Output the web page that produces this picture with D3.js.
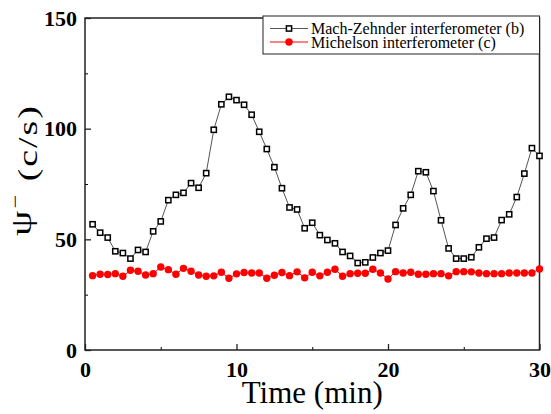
<!DOCTYPE html>
<html>
<head>
<meta charset="utf-8">
<script src="https://cdn.jsdelivr.net/npm/d3@7"></script>
<style>
  body { margin: 0; background: #fff; }
  svg { display: block; }
</style>
</head>
<body>
<div id="chart"></div>
<script>
// data
var timeMin = [0.5, 1, 1.5, 2, 2.5, 3, 3.5, 4, 4.5, 5, 5.5, 6, 6.5, 7, 7.5, 8, 8.5, 9, 9.5, 10,
  10.5, 11, 11.5, 12, 12.5, 13, 13.5, 14, 14.5, 15, 15.5, 16, 16.5, 17, 17.5, 18, 18.5, 19, 19.5, 20,
  20.5, 21, 21.5, 22, 22.5, 23, 23.5, 24, 24.5, 25, 25.5, 26, 26.5, 27, 27.5, 28, 28.5, 29, 29.5, 30];

var machZehnder = [56.8, 53.0, 50.8, 44.6, 43.8, 41.3, 45.2, 44.3, 53.6, 58.1,
  67.7, 70.1, 71.0, 75.4, 73.3, 79.9, 99.5, 111.0, 114.4, 112.9,
  110.8, 106.3, 98.6, 90.8, 82.6, 73.1, 64.4, 63.5, 55.0, 57.5,
  51.9, 49.7, 48.2, 44.3, 42.5, 39.3, 39.6, 41.8, 43.8, 44.9,
  56.5, 64.0, 70.1, 80.8, 80.3, 71.8, 58.6, 45.9, 41.3, 41.3,
  41.9, 46.4, 50.3, 50.8, 58.7, 61.3, 69.1, 79.7, 91.2, 87.7];

var michelson = [33.6, 34.2, 34.1, 34.5, 33.3, 36.0, 35.6, 33.9, 34.5, 37.5,
  36.3, 34.2, 36.9, 35.6, 33.9, 33.3, 33.5, 35.1, 32.4, 34.4,
  35.0, 34.8, 34.8, 32.4, 33.8, 35.0, 33.6, 35.3, 32.6, 35.1,
  33.5, 35.1, 36.5, 33.3, 34.5, 34.7, 34.7, 36.5, 34.8, 32.1,
  35.4, 34.8, 35.1, 34.2, 34.2, 34.5, 34.5, 33.5, 35.4, 35.4,
  35.3, 34.8, 34.5, 34.5, 34.5, 34.8, 34.8, 34.8, 34.8, 36.6];

var seriesNames = ["Mach-Zehnder interferometer (b)", "Michelson interferometer (c)"];
var xMajorTicks = [0, 10, 20, 30];
var xMinorTicks = [5, 15, 25];
var yMajorTicks = [0, 50, 100, 150];
var yMinorTicks = [25, 75, 125];

var W = 551, H = 414;
var margin = {top: 18, right: 11.5, bottom: 64, left: 85},
    width = W - margin.left - margin.right,
    height = H - margin.top - margin.bottom;

var svg = d3.select("#chart").append("svg")
    .attr("width", W)
    .attr("height", H)
  .append("g")
    .attr("transform", "translate(" + margin.left + "," + margin.top + ")");

var x = d3.scaleLinear().domain([0, 30]).range([0, width]);
var y = d3.scaleLinear().domain([0, 150]).range([height, 0]);

var serif = "'Liberation Serif', 'Times New Roman', serif";

// minor ticks first (no labels)
svg.append("g")
  .attr("transform", "translate(0," + height + ")")
  .call(d3.axisBottom(x).tickValues(xMinorTicks).tickSize(-3).tickFormat(""))
  .call(function(g) { g.select(".domain").remove(); });
svg.append("g")
  .call(d3.axisLeft(y).tickValues(yMinorTicks).tickSize(-3).tickFormat(""))
  .call(function(g) { g.select(".domain").remove(); });

// major ticks
var xAxis = svg.append("g")
  .attr("transform", "translate(0," + height + ")")
  .call(d3.axisBottom(x).tickValues(xMajorTicks).tickSizeInner(-6).tickSizeOuter(0).tickPadding(11));
var yAxis = svg.append("g")
  .call(d3.axisLeft(y).tickValues(yMajorTicks).tickSizeInner(-6).tickSizeOuter(0).tickPadding(8));

[xAxis, yAxis].forEach(function(a) {
  a.attr("font-family", null);
  a.selectAll("text")
    .style("font-family", serif)
    .style("font-weight", "bold")
    .style("font-size", "22px")
    .attr("fill", "#000");
  a.selectAll("line").attr("stroke", "#222").attr("stroke-width", 1.3);
  a.select(".domain").remove();
});

// plot frame
svg.append("rect")
  .attr("x", 0).attr("y", 0)
  .attr("width", width).attr("height", height)
  .attr("fill", "none")
  .attr("stroke", "#222")
  .attr("stroke-width", 1.5);

// axis titles
svg.append("text")
  .attr("x", width / 2)
  .attr("y", height + 53)
  .attr("text-anchor", "middle")
  .style("font-family", serif)
  .style("font-size", "31px")
  .text("Time (min)");

// the y title in the original is stretched along its length
var yTitle = svg.append("text")
  .attr("transform", "translate(" + (31 - margin.left) + "," + (170 - margin.top) + ") rotate(-90) scale(1.35,1)")
  .attr("text-anchor", "middle")
  .style("font-family", serif)
  .style("font-size", "28px")
  .style("letter-spacing", "1.5px");
yTitle.append("tspan").style("font-size", "30px").text("\u03C8");
yTitle.append("tspan").attr("dy", "-0.55em").style("font-size", "18px").text("\u2212");
yTitle.append("tspan").attr("dy", "0.55em").text(" (c/s)");

// Michelson series (red)
var redData = timeMin.map(function(t, i) { return {t: t, v: michelson[i]}; });
svg.append("path")
  .datum(redData)
  .attr("fill", "none")
  .attr("stroke", "#ff0000")
  .attr("stroke-width", 1)
  .attr("d", d3.line()
    .x(function(d) { return x(d.t); })
    .y(function(d) { return y(d.v); }));
svg.append("g").selectAll("circle")
  .data(redData)
  .enter().append("circle")
    .attr("cx", function(d) { return x(d.t); })
    .attr("cy", function(d) { return y(d.v); })
    .attr("r", 3.7)
    .attr("fill", "#ff0000");

// Mach-Zehnder series (black squares)
var blackData = timeMin.map(function(t, i) { return {t: t, v: machZehnder[i]}; });
svg.append("path")
  .datum(blackData)
  .attr("fill", "none")
  .attr("stroke", "#555")
  .attr("stroke-width", 1)
  .attr("d", d3.line()
    .x(function(d) { return x(d.t); })
    .y(function(d) { return y(d.v); }));
svg.append("g").selectAll("rect")
  .data(blackData)
  .enter().append("rect")
    .attr("x", function(d) { return x(d.t) - 2.6; })
    .attr("y", function(d) { return y(d.v) - 2.6; })
    .attr("width", 5.2)
    .attr("height", 5.2)
    .attr("fill", "#fff")
    .attr("stroke", "#000")
    .attr("stroke-width", 1.5);

// legend
var legend = svg.append("g").attr("transform", "translate(" + (263 - margin.left) + ",-2)");
legend.append("rect")
  .attr("x", 0).attr("y", 0)
  .attr("width", width - (263 - margin.left)).attr("height", 38)
  .attr("fill", "#fff")
  .attr("stroke", "#222")
  .attr("stroke-width", 1);

var rows = [
  {name: seriesNames[0], color: "#555", marker: "square"},
  {name: seriesNames[1], color: "#ff0000", marker: "circle"}
];
rows.forEach(function(r, i) {
  var cy = 12.5 + i * 13.5;
  legend.append("line")
    .attr("x1", 7).attr("x2", 45)
    .attr("y1", cy).attr("y2", cy)
    .attr("stroke", r.color)
    .attr("stroke-width", 1);
  if (r.marker === "square") {
    legend.append("rect")
      .attr("x", 26 - 2.6).attr("y", cy - 2.6)
      .attr("width", 5.2).attr("height", 5.2)
      .attr("fill", "#fff").attr("stroke", "#000").attr("stroke-width", 1.5);
  } else {
    legend.append("circle")
      .attr("cx", 26).attr("cy", cy).attr("r", 3.7)
      .attr("fill", "#ff0000");
  }
  legend.append("text")
    .attr("x", 48)
    .attr("y", cy)
    .attr("dy", "0.35em")
    .style("font-family", serif)
    .style("font-size", "16px")
    .text(r.name);
});
</script>
</body>
</html>
